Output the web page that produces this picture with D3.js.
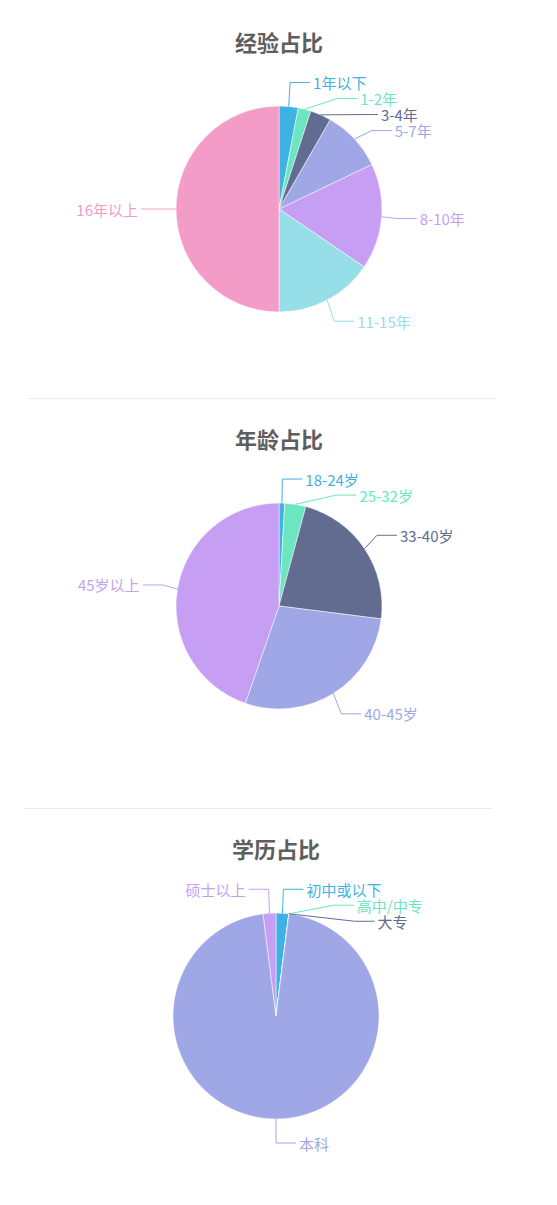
<!DOCTYPE html>
<html>
<head>
<meta charset="utf-8">
<script src="https://cdn.jsdelivr.net/npm/d3@7"></script>
<style>
  body { margin: 0; background: #fff; }
  svg { display: block; font-family: "Noto Sans CJK SC", "Noto Sans", sans-serif; }
</style>
</head>
<body>
<svg width="557" height="1205"></svg>
<script>
const palette = ["#3fb1e3", "#6be6c1", "#626c91", "#a0a7e6", "#c69ff4", "#96dee8", "#f49cc8"];

const expTitle = "经验占比";
const expCats = ["1年以下", "1-2年", "3-4年", "5-7年", "8-10年", "11-15年", "16年以上"];
const expVals = [3.0, 2.0, 3.3, 9.6, 16.6, 15.5, 50.0];

const ageTitle = "年龄占比";
const ageCats = ["18-24岁", "25-32岁", "33-40岁", "40-45岁", "45岁以上"];
const ageVals = [0.9, 3.3, 22.8, 28.3, 44.7];

const eduTitle = "学历占比";
const eduCats = ["初中或以下", "高中/中专", "大专", "本科", "硕士以上"];
const eduVals = [2.0, 0, 0, 96.0, 2.0];

class PieBlock {
  constructor(svg, opts) {
    this.svg = svg;
    this.o = opts;
    this.r = 103;
    this.rx = this.r + 15;   // where the label line turns, sideways
    this.ry = this.r + 24;   // ... and up/down
    this.len2 = 20;
    this.lineH = 16;
    this.color = d3.scaleOrdinal().domain(opts.cats).range(palette);
  }

  draw() {
    const { top, cx, title, cats, vals, divider } = this.o;
    const cy = top + 209;
    const g = this.svg.append("g");

    if (divider) {
      g.append("line")
        .attr("x1", cx - 251).attr("x2", cx + 216)
        .attr("y1", top + 1.5).attr("y2", top + 1.5)
        .attr("stroke", "#ebebeb").attr("stroke-width", 1);
    }

    g.append("text")
      .attr("x", cx).attr("y", top + 41)
      .attr("text-anchor", "middle")
      .attr("dominant-baseline", "central")
      .attr("font-size", 22).attr("font-weight", "bold")
      .attr("fill", "#5e5e5e")
      .text(title);

    const data = cats.map((c, i) => ({ name: c, value: vals[i] }));
    const arcs = d3.pie().sort(null).value(d => d.value)(data);
    const arc = d3.arc().innerRadius(0).outerRadius(this.r);

    g.append("g")
      .attr("transform", `translate(${cx},${cy})`)
      .selectAll("path")
      .data(arcs)
      .enter()
      .append("path")
      .attr("d", arc)
      .attr("fill", d => this.color(d.data.name))
      .attr("stroke", "#fff")
      .attr("stroke-width", 0.5);

    const labels = this.layoutLabels(arcs, cx, cy);

    g.append("g").selectAll("polyline")
      .data(labels)
      .enter()
      .append("polyline")
      .attr("points", d => [d.p1, d.bend, [d.x, d.y]].map(p => p.join(",")).join(" "))
      .attr("fill", "none")
      .attr("stroke", d => this.color(d.name))
      .attr("stroke-width", 1);

    g.append("g").selectAll("text")
      .data(labels)
      .enter()
      .append("text")
      .attr("x", d => d.x + d.dir * 3)
      .attr("y", d => d.y)
      .attr("text-anchor", d => d.dir > 0 ? "start" : "end")
      .attr("dominant-baseline", "central")
      .attr("font-size", 15)
      .attr("fill", d => this.color(d.name))
      .text(d => d.name);
  }

  // roughly the echarts outside-label layout: push overlapping labels down,
  // then slide them along an ellipse so the lines don't cross
  layoutLabels(arcs, cx, cy) {
    const rA = this.rx;
    const items = arcs.map(a => {
      const mid = (a.startAngle + a.endAngle) / 2;
      const s = Math.sin(mid), c = Math.cos(mid);
      return {
        name: a.data.name,
        dir: s > -1e-6 ? 1 : -1,
        p1: [cx + this.r * s, cy - this.r * c],
        bendX0: cx + this.rx * s,
        y: cy - this.ry * c
      };
    });

    [1, -1].forEach(dir => {
      const side = items.filter(d => d.dir === dir).sort((a, b) => a.y - b.y);
      if (side.length < 2) return;
      let moved = false;
      for (let i = 1; i < side.length; i++) {
        const gap = side[i].y - side[i - 1].y - this.lineH;
        if (gap < 0) {
          side[i].y -= gap;
          moved = true;
        }
      }
      if (!moved) return;
      [side.filter(d => d.y <= cy), side.filter(d => d.y > cy)].forEach(semi => {
        if (!semi.length) return;
        const far = d3.greatest(semi, d => Math.abs(d.y - cy));
        const dy0 = Math.abs(far.y - cy);
        const dx0 = far.bendX0 - cx;
        const rB = Math.abs(dx0) < rA ? Math.sqrt(dy0 * dy0 / (1 - dx0 * dx0 / (rA * rA))) : this.ry;
        semi.forEach(d => {
          const dy = Math.abs(d.y - cy);
          const dx = Math.sqrt(Math.max(0, 1 - dy * dy / (rB * rB))) * rA;
          d.bendX = cx + dx * dir;
        });
      });
    });

    items.forEach(d => {
      const bx = d.bendX !== undefined ? d.bendX : d.bendX0;
      d.bend = [bx, d.y];
      d.x = bx + d.dir * this.len2;
    });
    return items;
  }
}

const svg = d3.select("svg");
new PieBlock(svg, { top: 0, cx: 279, title: expTitle, cats: expCats, vals: expVals, divider: false }).draw();
new PieBlock(svg, { top: 397, cx: 279, title: ageTitle, cats: ageCats, vals: ageVals, divider: true }).draw();
new PieBlock(svg, { top: 807, cx: 276, title: eduTitle, cats: eduCats, vals: eduVals, divider: true }).draw();
</script>
</body>
</html>
